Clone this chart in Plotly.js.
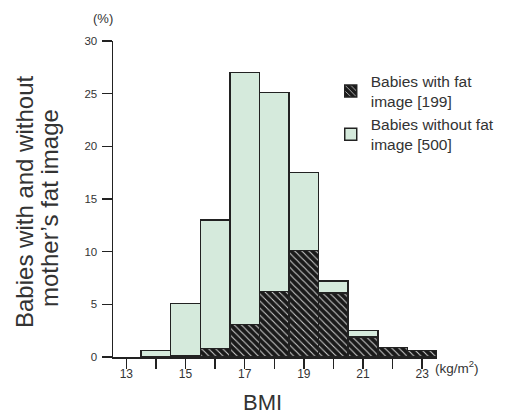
<!DOCTYPE html>
<html>
<head>
<meta charset="utf-8">
<script src="https://cdn.plot.ly/plotly-3.0.1.min.js"></script>
<style>
html,body{margin:0;padding:0;background:#fff;}
#chart{width:506px;height:416px;}
</style>
</head>
<body>
<div id="chart"></div>
<script>
// BMI bin centres (kg/m2)
const bmi = [14, 15, 16, 17, 18, 19, 20, 21, 22, 23];
// % of babies, with mother's fat image (dark hatched part)
const withFat = [0, 0.15, 0.8, 3.1, 6.2, 10.1, 6.1, 1.9, 0.9, 0.6];
// % of babies, without mother's fat image (light part stacked on top)
const withoutFat = [0.6, 4.95, 12.2, 23.9, 18.9, 7.4, 1.1, 0.6, 0, 0];

const seriesNames = ['Babies with fat<br>image [199]', 'Babies without fat<br>image [500]'];
const xTickVals = [13, 15, 17, 19, 21, 23];
const xTickText = ['13', '15', '17', '19', '21', '23'];
const yTickVals = [0, 5, 10, 15, 20, 25, 30];

const FONT = '"Liberation Sans", Arial, Helvetica, sans-serif';
const TXT = '#333333';

const traces = [
  {
    type: 'bar',
    x: bmi,
    y: withFat,
    name: seriesNames[0],
    width: 1,
    marker: {
      color: '#1a1a1a',
      line: {color: '#222222', width: 1.5},
      pattern: {shape: '\\', bgcolor: '#1a1a1a', fgcolor: '#d0d0d0', size: 5, solidity: 0.2, fillmode: 'replace'}
    },
    hoverinfo: 'skip'
  },
  {
    type: 'bar',
    x: bmi,
    y: withoutFat,
    name: seriesNames[1],
    width: 1,
    marker: {
      color: '#d5eadc',
      line: {color: '#222222', width: 1.5}
    },
    hoverinfo: 'skip'
  }
];

const layout = {
  width: 506,
  height: 416,
  margin: {l: 113, r: 69, t: 41, b: 59, pad: 0, autoexpand: false},
  paper_bgcolor: '#ffffff',
  plot_bgcolor: '#ffffff',
  barmode: 'stack',
  bargap: 0,
  font: {family: FONT, color: TXT, size: 12},
  showlegend: true,
  legend: {
    x: 0.672, xanchor: 'left',
    y: 0.926, yanchor: 'top',
    traceorder: 'normal',
    font: {family: FONT, size: 15.5, color: TXT},
    bgcolor: 'rgba(0,0,0,0)',
    itemclick: false,
    tracegroupgap: 12
  },
  xaxis: {
    range: [12.55, 23.5],
    automargin: false,
    tickmode: 'array',
    tickvals: xTickVals,
    ticktext: xTickText,
    ticks: 'outside',
    ticklen: 10,
    tickwidth: 1.5,
    tickcolor: '#222222',
    ticklabelstandoff: -5,
    minor: {tick0: 13, dtick: 1, ticks: 'outside', ticklen: 10, tickwidth: 1.5, tickcolor: '#222222', showgrid: false},
    showline: true,
    linecolor: '#222222',
    linewidth: 1.5,
    showgrid: false,
    zeroline: false,
    tickfont: {family: FONT, size: 12, color: TXT},
    fixedrange: true
  },
  yaxis: {
    range: [0, 30],
    automargin: false,
    tickmode: 'array',
    tickvals: yTickVals,
    ticks: 'outside',
    ticklen: 10,
    tickwidth: 1.5,
    tickcolor: '#222222',
    showline: true,
    linecolor: '#222222',
    linewidth: 1.5,
    showgrid: false,
    zeroline: false,
    tickfont: {family: FONT, size: 11.5, color: TXT},
    ticklabelstandoff: 2,
    fixedrange: true
  },
  annotations: [
    {text: 'Babies with and without', xref: 'paper', yref: 'paper',
     x: (24 - 113) / 324, y: (357 - 202) / 316, xanchor: 'center', yanchor: 'middle',
     textangle: -90, showarrow: false, font: {family: FONT, size: 24, color: TXT}},
    {text: 'mother\u2019s fat image', xref: 'paper', yref: 'paper',
     x: (50 - 113) / 324, y: (357 - 208) / 316, xanchor: 'center', yanchor: 'middle',
     textangle: -90, showarrow: false, font: {family: FONT, size: 24, color: TXT}},
    {text: 'BMI', xref: 'paper', yref: 'paper',
     x: (262 - 113) / 324, y: (357 - 402) / 316, xanchor: 'center', yanchor: 'middle',
     showarrow: false, font: {family: FONT, size: 22, color: TXT}},
    {text: '(kg/m<sup>2</sup>)', xref: 'paper', yref: 'paper',
     x: (433 - 113) / 324, y: (357 - 367) / 316, xanchor: 'left', yanchor: 'middle',
     showarrow: false, font: {family: FONT, size: 13.5, color: TXT}},
    {text: '(%)', xref: 'paper', yref: 'paper',
     x: (103 - 113) / 324, y: (357 - 18) / 316, xanchor: 'center', yanchor: 'middle',
     showarrow: false, font: {family: FONT, size: 13, color: TXT}}
  ]
};

Plotly.newPlot('chart', traces, layout, {displayModeBar: false, staticPlot: true});
</script>
</body>
</html>
